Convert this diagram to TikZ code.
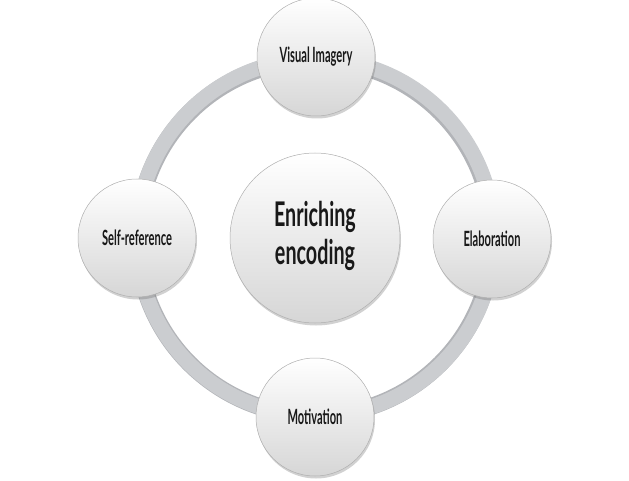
\documentclass[tikz,border=0pt]{standalone}
\usepackage{fontspec}
\setmainfont{Lato}
\usetikzlibrary{shadows,calc}
\definecolor{ringc}{RGB}{203,205,208}
\definecolor{ringd}{RGB}{178,180,184}
\definecolor{bord}{RGB}{175,175,175}
\definecolor{bot}{RGB}{214,214,214}
\newcommand\smalllab[1]{\scalebox{0.53}[1]{\fontsize{21}{21}\selectfont\bfseries #1}}
\newcommand\biglab[1]{\scalebox{0.58}[1]{\fontsize{34}{38}\selectfont\bfseries #1}}
\begin{document}
\begin{tikzpicture}[x=1pt,y=1pt,
  bubble/.style={circle, draw=bord, line width=0.5pt, top color=white, bottom color=bot,
    drop shadow={opacity=0.3, shadow xshift=1pt, shadow yshift=-2.5pt, fill=black!60},
    inner sep=0pt, minimum size=#1, text=black!90, align=center}]
\useasboundingbox (0,0) rectangle (629,480);
\coordinate (c) at (315,242);
% ring
\draw[ringd, line width=17pt] (c) circle[radius=177.5pt];
\draw[ringc, line width=15pt] ($(c)+(0.4,0.6)$) circle[radius=178.5pt];
\node[bubble=170pt] (center) at (c) {\biglab{\begin{tabular}{c}Enriching\\encoding\end{tabular}}};
\node[bubble=118pt] (top) at (316,423) {\smalllab{Visual Imagery}};
\node[bubble=118pt] (right) at (492,241) {\smalllab{Elaboration}};
\node[bubble=118pt] (bottom) at (315,63) {\smalllab{Motivation}};
\node[bubble=118pt] (left) at (137,242) {\smalllab{Self-reference}};
\end{tikzpicture}
\end{document}
